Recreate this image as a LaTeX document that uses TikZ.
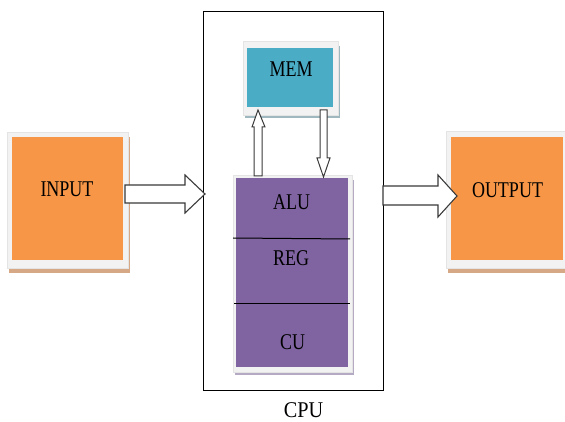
\documentclass[tikz,border=0pt]{standalone}
\usepackage{fontspec}
\setmainfont{Liberation Serif}
\definecolor{orangec}{HTML}{F79646}
\definecolor{cyanc}{HTML}{4BACC6}
\definecolor{purplec}{HTML}{8064A2}
\definecolor{framec}{HTML}{F2F2F2}
\definecolor{framedge}{HTML}{E4E4E4}
\definecolor{tanshadow}{HTML}{D6A886}
\definecolor{blueshadow}{HTML}{9FB8C0}
\definecolor{purpshadow}{HTML}{B4AAC4}
\definecolor{arrowc}{HTML}{3A3A3A}
\newcommand{\lbltext}[1]{\scalebox{0.8}[1]{#1}}
\begin{document}
\begin{tikzpicture}[x=1pt,y=-1pt,
  lbl/.style={font=\fontsize{22.5}{22.5}\selectfont, text=black, inner sep=0pt, anchor=center},
  blockarrow/.style={draw=arrowc, fill=white, line width=1.1pt, line join=miter},
  framebox/.style={fill=framec, draw=framedge, line width=0.4pt}]
\useasboundingbox (0,0) rectangle (565,422);
\fill[white] (0,0) rectangle (565,422);

% CPU outer box
\draw[line width=1pt] (203,12) rectangle (383,390);
\node[lbl] (cputxt) at (303.5,410) {\scalebox{0.9}[1]{CPU}};

% INPUT
\fill[tanshadow] (9,137) rectangle (130,273);
\filldraw[framebox] (7,132) rectangle (128,268);
\fill[orangec] (12,137) rectangle (123,260);
\node[lbl] (input) at (67,189.5) {\lbltext{INPUT}};

% OUTPUT
\fill[tanshadow] (448,136) rectangle (567,273);
\filldraw[framebox] (446,131) rectangle (567,268);
\fill[orangec] (451,137) rectangle (563,260);
\node[lbl] (output) at (507.5,190) {\lbltext{OUTPUT}};

% MEM
\fill[blueshadow] (245,46) rectangle (340,118);
\filldraw[framebox] (243,41) rectangle (338,115);
\fill[cyanc] (247,48) rectangle (333,107);
\node[lbl] (mem) at (291,69.5) {\lbltext{MEM}};

% ALU / REG / CU block
\fill[purpshadow] (235,180) rectangle (354,375);
\filldraw[framebox] (233,175) rectangle (352,372);
\fill[purplec] (236,178) rectangle (348,367);
\draw[line width=1pt] (233,238) -- (350,239);
\draw[line width=1pt] (234,303) -- (350,303);
\node[lbl] (alu) at (291.5,202) {\lbltext{ALU}};
\node[lbl] (reg) at (291,258.5) {\lbltext{REG}};
\node[lbl] (cu) at (292.5,342.5) {\lbltext{CU}};

% block arrows
\draw[blockarrow] (125,185) -- (185,185) -- (185,175) -- (205,194) -- (185,213) -- (185,203) -- (125,203) -- cycle;
\draw[blockarrow] (383,186) -- (438,186) -- (438,175) -- (457,196) -- (438,217) -- (438,205) -- (383,205) -- cycle;
\draw[blockarrow, line width=1pt] (254,176) -- (254,127) -- (252,127) -- (258,110) -- (265,127) -- (262,127) -- (262,176) -- cycle;
\draw[blockarrow, line width=1pt] (320,110) -- (327,110) -- (327,158) -- (330,158) -- (323.5,177) -- (317,158) -- (320,158) -- cycle;
\end{tikzpicture}
\end{document}
